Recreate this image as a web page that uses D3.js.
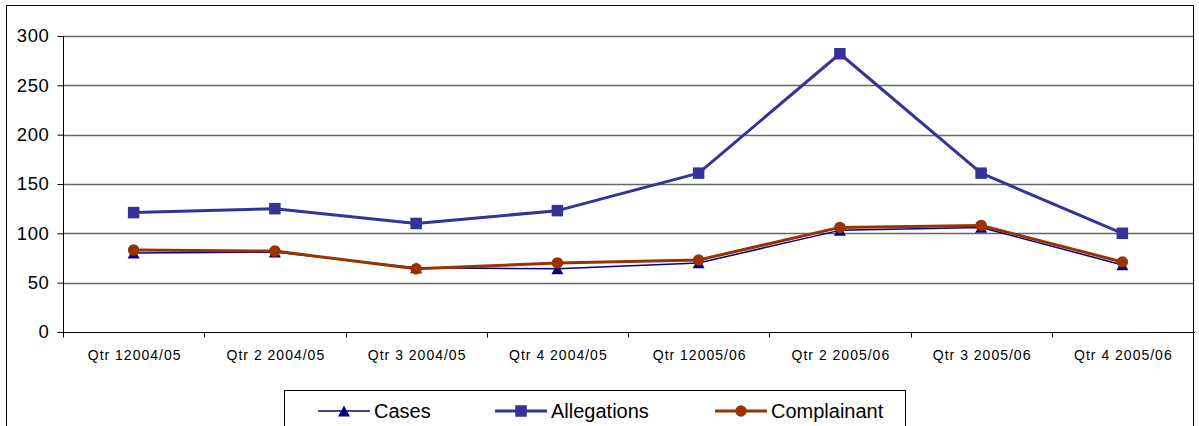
<!DOCTYPE html>
<html>
<head>
<meta charset="utf-8">
<script src="https://cdn.jsdelivr.net/npm/d3@7"></script>
<style>
  html, body { margin: 0; padding: 0; background: #fff; }
  svg { display: block; font-family: "Liberation Sans", Arial, sans-serif; }
</style>
</head>
<body>
<svg id="chart" width="1199" height="426"></svg>
<script>
// Quarterly figures
const quarters = ["Qtr 12004/05", "Qtr 2 2004/05", "Qtr 3 2004/05", "Qtr 4 2004/05",
                  "Qtr 12005/06", "Qtr 2 2005/06", "Qtr 3 2005/06", "Qtr 4 2005/06"];
const cases       = [80, 81, 65, 64, 70, 103, 106, 68];
const allegations = [121, 125, 110, 123, 161, 282, 161, 100];
const complainant = [83, 82, 64, 70, 73, 106, 108, 71];
const yTicks = [0, 50, 100, 150, 200, 250, 300];

const series = [
  { name: "Cases",       values: cases,       color: "#000080", width: 1.5, marker: "triangle" },
  { name: "Allegations", values: allegations, color: "#333399", width: 3,   marker: "square" },
  { name: "Complainant", values: complainant, color: "#993300", width: 3,   marker: "circle" }
];

const svg = d3.select("#chart");
const plot = { left: 63, right: 1193, top: 36, bottom: 332 };

// outer chart frame
svg.append("rect")
  .attr("x", 6.5).attr("y", 5.5)
  .attr("width", 1193 - 6).attr("height", 440)
  .attr("fill", "none").attr("stroke", "#000").attr("stroke-width", 1);

const x = d3.scaleBand().domain(quarters).range([plot.left, plot.right]).padding(0);
const y = d3.scaleLinear().domain([0, 300]).range([plot.bottom, plot.top]);

// horizontal gridlines
svg.append("g")
  .selectAll("line")
  .data(yTicks.filter(d => d > 0))
  .join("line")
  .attr("x1", plot.left).attr("x2", plot.right)
  .attr("y1", d => Math.round(y(d)) + 0.5).attr("y2", d => Math.round(y(d)) + 0.5)
  .attr("stroke", "#666").attr("stroke-width", 1.4);

// y axis
const yAxis = svg.append("g")
  .attr("transform", `translate(${plot.left + 0.5},0)`)
  .call(d3.axisLeft(y).tickValues(yTicks).tickSize(6).tickPadding(8));
yAxis.selectAll("text")
  .attr("font-size", 18.5).attr("fill", "#000")
  .style("letter-spacing", "0.6px")
  .attr("font-family", "'Liberation Sans', Arial, sans-serif");
yAxis.selectAll("line, path").attr("stroke", "#000");
yAxis.select(".domain").attr("d", `M0,${plot.top}V${plot.bottom}`);

// x axis with boundary ticks between categories
const xg = svg.append("g").attr("transform", `translate(0,${plot.bottom + 0.5})`);
xg.append("line")
  .attr("x1", plot.left).attr("x2", plot.right + 2)
  .attr("stroke", "#000");
const bounds = quarters.map(q => x(q)).concat([plot.right]);
xg.selectAll("line.tick")
  .data(bounds)
  .join("line").attr("class", "tick")
  .attr("x1", d => Math.round(d) + 0.5).attr("x2", d => Math.round(d) + 0.5)
  .attr("y1", 0).attr("y2", 5)
  .attr("stroke", "#000");
xg.selectAll("text")
  .data(quarters)
  .join("text")
  .attr("x", d => x(d) + x.bandwidth() / 2 + 1)
  .attr("y", 27)
  .attr("text-anchor", "middle")
  .attr("font-size", 14)
  .style("letter-spacing", "1px")
  .attr("fill", "#000")
  .text(d => d);

// markers
function drawMarker(g, type, color, size) {
  if (type === "square") {
    g.append("rect").attr("x", -size / 2).attr("y", -size / 2)
      .attr("width", size).attr("height", size).attr("fill", color);
  } else if (type === "circle") {
    g.append("circle").attr("r", size / 2).attr("fill", color);
  } else {
    const h = size * 0.9;
    g.append("path")
      .attr("d", `M0,${-h / 2}L${size / 2},${h / 2}L${-size / 2},${h / 2}Z`)
      .attr("fill", color);
  }
}

const line = d3.line()
  .x((d, i) => x(quarters[i]) + x.bandwidth() / 2)
  .y(d => y(d));

series.forEach(s => {
  const g = svg.append("g");
  g.append("path")
    .datum(s.values)
    .attr("d", line)
    .attr("fill", "none")
    .attr("stroke", s.color)
    .attr("stroke-width", s.width)
    .attr("stroke-linejoin", "round");
  s.values.forEach((v, i) => {
    const m = g.append("g")
      .attr("transform", `translate(${x(quarters[i]) + x.bandwidth() / 2},${y(v)})`);
    drawMarker(m, s.marker, s.color, s.marker === "triangle" ? 12 : 11.5);
  });
});

// legend
const legend = svg.append("g");
legend.append("rect")
  .attr("x", 284.5).attr("y", 390.5)
  .attr("width", 621).attr("height", 60)
  .attr("fill", "#fff").attr("stroke", "#000");
const legendX = [318, 495, 715];
series.forEach((s, i) => {
  const lg = legend.append("g").attr("transform", `translate(${legendX[i]},411)`);
  lg.append("line").attr("x1", 0).attr("x2", 52)
    .attr("stroke", s.color).attr("stroke-width", s.width);
  const m = lg.append("g").attr("transform", "translate(26,0)");
  drawMarker(m, s.marker, s.color, s.marker === "triangle" ? 12 : 11.5);
  lg.append("text")
    .attr("x", 56).attr("y", 0).attr("dy", "0.35em")
    .attr("font-size", 20).attr("fill", "#000")
    .text(s.name);
});
</script>
</body>
</html>
